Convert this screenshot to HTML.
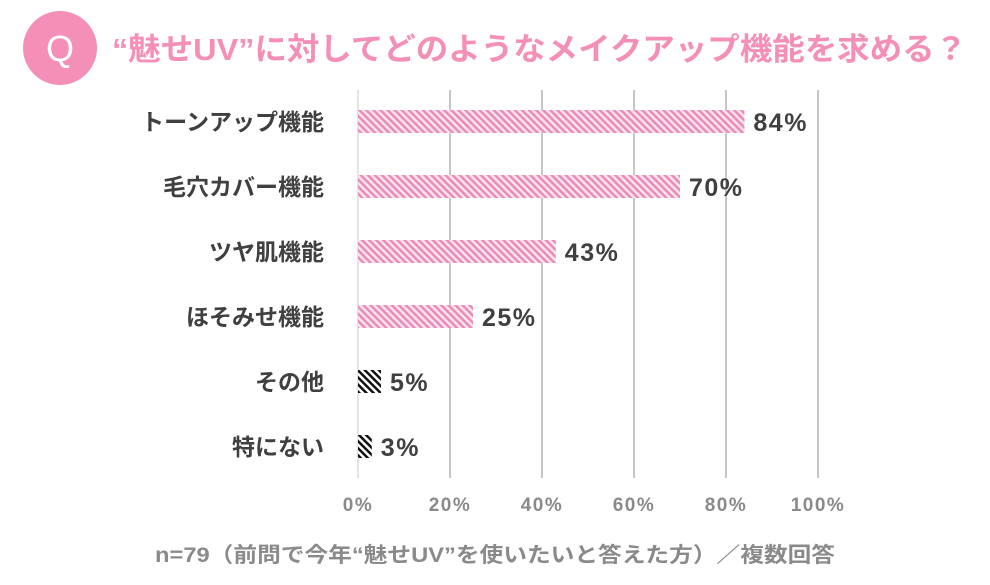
<!DOCTYPE html>
<html><head><meta charset="utf-8"><style>
body{margin:0;background:#fff;width:990px;height:580px;overflow:hidden;font-family:"Liberation Sans","Noto Sans CJK JP",sans-serif}
</style></head><body>
<svg width="990" height="580" xmlns="http://www.w3.org/2000/svg">
<defs>
<pattern id="pk" width="5" height="5" patternUnits="userSpaceOnUse" patternTransform="rotate(-45)">
<rect width="5" height="5" fill="#fbe3ee"/><rect width="2.5" height="5" fill="#ea8cb8"/></pattern>
<pattern id="bk" width="5" height="5" patternUnits="userSpaceOnUse" patternTransform="rotate(-45)">
<rect width="5" height="5" fill="#fff"/><rect width="2.5" height="5" fill="#111"/></pattern>
</defs>
<circle cx="60" cy="48" r="37" fill="#f48fb7"/>
<text x="60" y="61" font-size="36" fill="#fff" text-anchor="middle" font-family="Liberation Sans, sans-serif">Q</text>
<text x="112" y="60" font-size="31" font-weight="bold" fill="#f48fb7" textLength="855" lengthAdjust="spacingAndGlyphs">“魅せUV”に対してどのようなメイクアップ機能を求める？</text>
<g id="grid"></g>
<g id="bars"></g>
<text x="155" y="562" font-size="21" font-weight="bold" fill="#8a8a8a" textLength="680" lengthAdjust="spacingAndGlyphs">n=79（前問で今年“魅せUV”を使いたいと答えた方）／複数回答</text>
</svg>
<script>
const categories=["トーンアップ機能","毛穴カバー機能","ツヤ肌機能","ほそみせ機能","その他","特にない"];
const values=[84,70,43,25,5,3];
const tickValues=[0,20,40,60,80,100];
const tickLabels=["0%","20%","40%","60%","80%","100%"];
const NS="http://www.w3.org/2000/svg";
const x=v=>358+v*4.6;
const y=i=>121+i*65;
function mk(t,a,p){const e=document.createElementNS(NS,t);for(const k in a)e.setAttribute(k,a[k]);p.appendChild(e);return e;}
const g=document.getElementById('grid'),b=document.getElementById('bars');
tickValues.forEach((v,i)=>{
 const l=mk('line',{x1:x(v),x2:x(v),y1:90,y2:478,stroke:i==0?'#c8c8c8':'#8c8c8c','stroke-width':1},g);
 
 
 const t=mk('text',{x:x(v),y:511,'font-size':19,'font-weight':'bold',fill:'#8a8a8a','text-anchor':'middle','letter-spacing':1.5},g);
 t.textContent=tickLabels[i];
 
 
});
categories.forEach((c,i)=>{
 const r=mk('rect',{x:358,y:y(i)-11,width:x(values[i])-358,height:23,fill:i<4?'url(#pk)':'url(#bk)'},b);
 
 
 const t=mk('text',{x:324,y:y(i)+9,'font-size':23,'font-weight':'bold',fill:'#404040','text-anchor':'end'},b);
 t.textContent=c;
 
 
 const v=mk('text',{x:x(values[i])+9,y:y(i)+10,'font-size':25,'font-weight':'bold',fill:'#404040','letter-spacing':1.5},b);
 v.textContent=values[i]+'%';
 
 
});
</script>
</body></html>
